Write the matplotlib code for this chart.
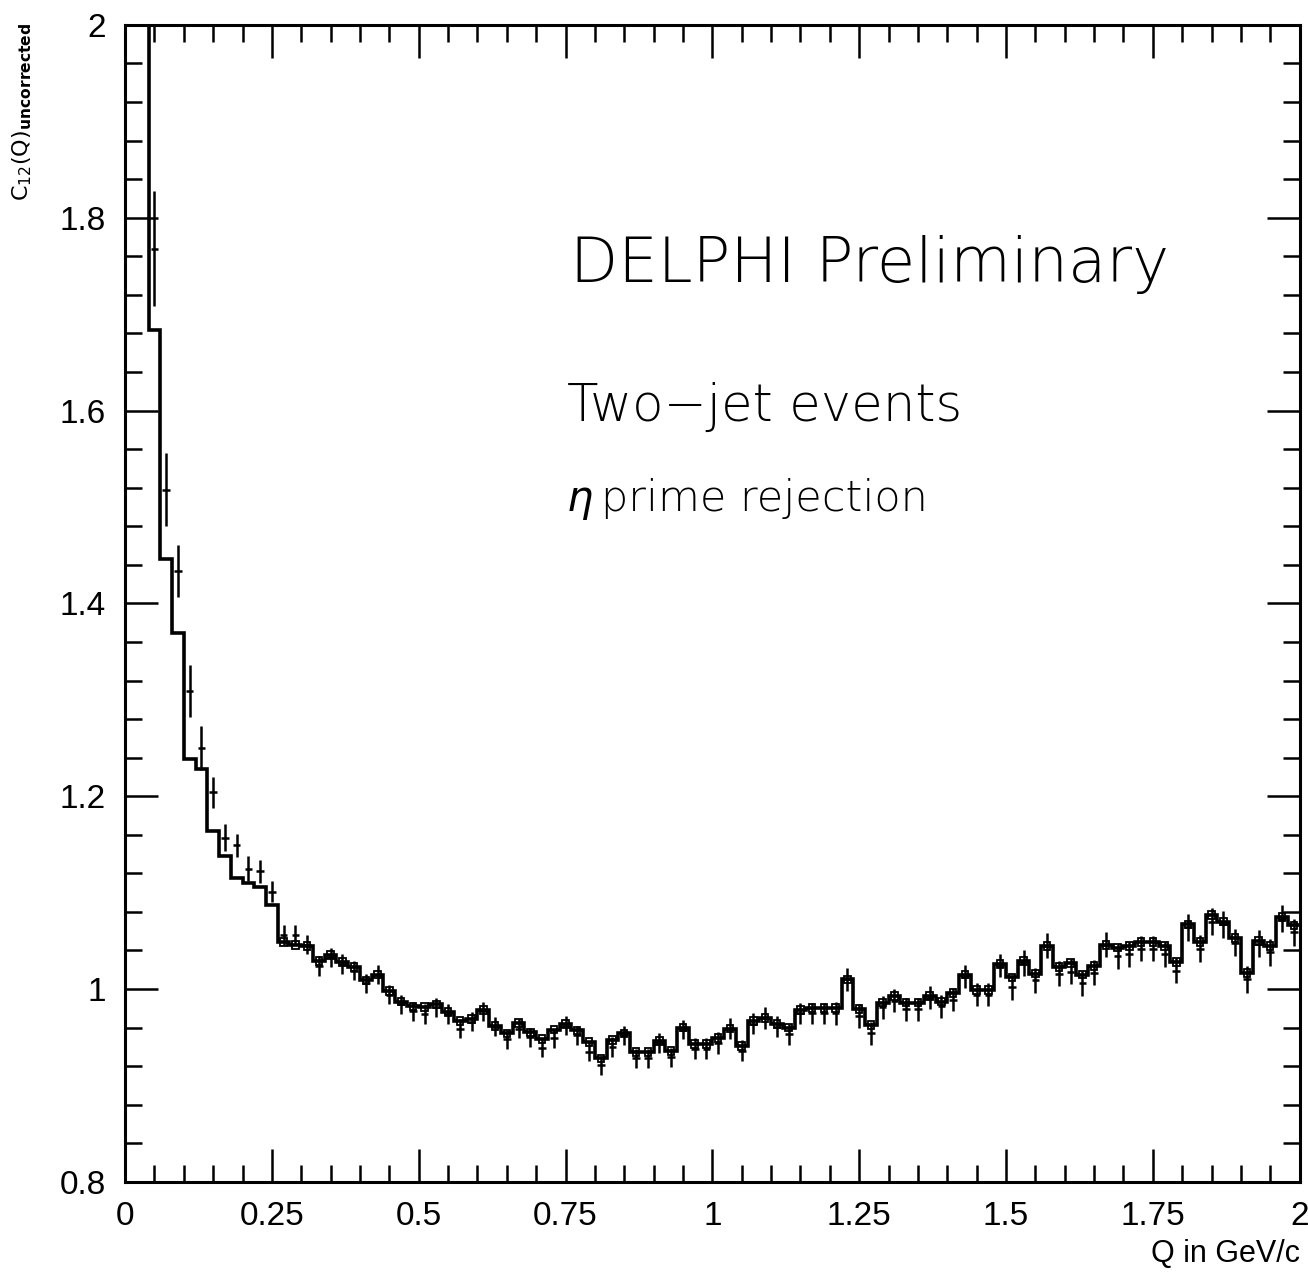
import numpy as np
import matplotlib
matplotlib.use("Agg")
import matplotlib.pyplot as plt
from matplotlib.ticker import MultipleLocator, FixedLocator, FixedFormatter

# bin edges: 100 bins of 0.02 GeV/c from 0 to 2
q_edges = np.linspace(0, 2, 101)
q_centers = 0.5 * (q_edges[:-1] + q_edges[1:])

# histogram (solid line) - first two bins are off scale
hist_vals = [
    2.5, 2.5, 1.684, 1.446, 1.369, 1.239, 1.228, 1.164, 1.138, 1.115,
    1.110, 1.106, 1.087, 1.049, 1.046, 1.045, 1.029, 1.035, 1.028, 1.023,
    1.009, 1.015, 0.998, 0.987, 0.982, 0.981, 0.984, 0.976, 0.967, 0.969,
    0.978, 0.962, 0.954, 0.965, 0.955, 0.948, 0.958, 0.964, 0.957, 0.945,
    0.928, 0.947, 0.954, 0.935, 0.935, 0.946, 0.936, 0.960, 0.943, 0.943,
    0.949, 0.959, 0.941, 0.967, 0.970, 0.964, 0.960, 0.978, 0.980, 0.980,
    0.980, 1.010, 0.979, 0.963, 0.986, 0.993, 0.986, 0.986, 0.993, 0.987,
    0.996, 1.015, 0.999, 0.999, 1.026, 1.012, 1.029, 1.016, 1.045, 1.023,
    1.027, 1.015, 1.024, 1.046, 1.043, 1.045, 1.049, 1.049, 1.045, 1.028,
    1.067, 1.049, 1.077, 1.070, 1.053, 1.017, 1.050, 1.045, 1.075, 1.066,
]

# data points with error bars
data_vals = [
    np.nan, np.nan, 1.768, 1.518, 1.434, 1.309, 1.250, 1.204, 1.157, 1.149,
    1.125, 1.122, 1.101, 1.056, 1.056, 1.046, 1.024, 1.033, 1.026, 1.019,
    1.006, 1.015, 0.994, 0.984, 0.977, 0.974, 0.981, 0.974, 0.959, 0.966,
    0.977, 0.961, 0.948, 0.959, 0.950, 0.939, 0.949, 0.962, 0.952, 0.935,
    0.921, 0.940, 0.952, 0.928, 0.928, 0.944, 0.929, 0.958, 0.938, 0.938,
    0.944, 0.959, 0.936, 0.964, 0.970, 0.961, 0.953, 0.975, 0.975, 0.975,
    0.975, 1.010, 0.972, 0.954, 0.981, 0.988, 0.979, 0.979, 0.991, 0.982,
    0.989, 1.013, 0.994, 0.994, 1.024, 1.002, 1.027, 1.009, 1.045, 1.016,
    1.018, 1.006, 1.017, 1.046, 1.034, 1.036, 1.042, 1.042, 1.036, 1.019,
    1.064, 1.042, 1.070, 1.067, 1.048, 1.010, 1.047, 1.038, 1.073, 1.059,
]

data_errs = [
    0.0, 0.0, 0.060, 0.038, 0.027, 0.027, 0.023, 0.016, 0.014, 0.012,
    0.013, 0.012, 0.011, 0.010, 0.010, 0.010, 0.010, 0.010, 0.010, 0.010,
    0.010, 0.010, 0.010, 0.010, 0.010, 0.010, 0.010, 0.010, 0.010, 0.010,
    0.010, 0.010, 0.010, 0.010, 0.010, 0.010, 0.010, 0.010, 0.010, 0.010,
    0.010, 0.010, 0.010, 0.010, 0.010, 0.010, 0.010, 0.010, 0.011, 0.011,
    0.011, 0.011, 0.011, 0.011, 0.011, 0.011, 0.011, 0.011, 0.011, 0.011,
    0.012, 0.012, 0.012, 0.012, 0.012, 0.012, 0.012, 0.012, 0.012, 0.012,
    0.012, 0.012, 0.012, 0.012, 0.012, 0.013, 0.013, 0.013, 0.013, 0.013,
    0.013, 0.013, 0.013, 0.013, 0.013, 0.013, 0.013, 0.013, 0.013, 0.013,
    0.014, 0.014, 0.014, 0.014, 0.014, 0.014, 0.014, 0.014, 0.014, 0.014,
]

# half height of the small error boxes drawn on the histogram
box_half = [0.004] * 100
first_box_bin = 13

x_ticks = [0, 0.25, 0.5, 0.75, 1, 1.25, 1.5, 1.75, 2]
x_labels = ["0", "0.25", "0.5", "0.75", "1", "1.25", "1.5", "1.75", "2"]
y_ticks = [0.8, 1.0, 1.2, 1.4, 1.6, 1.8, 2.0]
y_labels = ["0.8", "1", "1.2", "1.4", "1.6", "1.8", "2"]

tick_font = ["Liberation Sans", "DejaVu Sans"]
note_font = ["DejaVu Sans"]

fig = plt.figure(figsize=(13.08, 12.77), dpi=100)
ax = fig.add_axes([0.0956, 0.0745, 0.898, 0.906])

ax.stairs(hist_vals, q_edges, baseline=None, color="black", lw=2.6)

hv = np.array(hist_vals)
bh = np.array(box_half)
ax.bar(q_centers[first_box_bin:], 2 * bh[first_box_bin:],
       bottom=hv[first_box_bin:] - bh[first_box_bin:], width=0.011,
       fill=False, edgecolor="black", lw=1.3)

ax.errorbar(q_centers, data_vals, yerr=data_errs, xerr=0.0065, fmt="none",
            ecolor="black", elinewidth=1.8, capsize=0)

ax.set_xlim(0, 2)
ax.set_ylim(0.8, 2)

ax.xaxis.set_major_locator(FixedLocator(x_ticks))
ax.xaxis.set_major_formatter(FixedFormatter(x_labels))
ax.xaxis.set_minor_locator(MultipleLocator(0.05))
ax.yaxis.set_major_locator(FixedLocator(y_ticks))
ax.yaxis.set_major_formatter(FixedFormatter(y_labels))
ax.yaxis.set_minor_locator(MultipleLocator(0.04))

ax.tick_params(which="both", direction="in", top=True, right=True, width=1.8)
ax.tick_params(which="major", length=24)
ax.tick_params(which="minor", length=12)
ax.tick_params(axis="y", which="major", pad=14)
ax.tick_params(axis="x", which="major", pad=14)
for lab in ax.get_xticklabels() + ax.get_yticklabels():
    lab.set_fontfamily(tick_font)
    lab.set_fontsize(24)

for sp in ax.spines.values():
    sp.set_linewidth(2.2)

ax.text(0.758, 1.733, "DELPHI Preliminary", family=note_font, fontweight="light",
        fontsize=45, va="baseline", ha="left")
ax.text(0.752, 1.589, "Two\u2212jet events", family=note_font, fontweight="light",
        fontsize=37, va="baseline", ha="left")
ax.text(0.752, 1.496, "\u03b7", family=note_font, fontweight="light",
        style="italic", fontsize=30, va="baseline", ha="left")
ax.text(0.81, 1.496, "prime rejection", family=note_font,
        fontweight="light", fontsize=31, va="baseline", ha="left")

fig.text(0.017, 0.982, r"$\mathrm{C}_{12}(\mathrm{Q})_{\mathbf{uncorrected}}$",
         rotation=90, va="top", ha="center", fontsize=16)
fig.text(0.994, 0.006, "Q in GeV/c", family=tick_font, fontsize=22,
         ha="right", va="bottom")

fig.savefig("out.png", dpi=100)
